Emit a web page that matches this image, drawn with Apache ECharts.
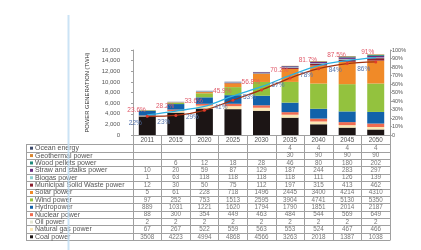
<!DOCTYPE html>
<html><head><meta charset="utf-8">
<script src="https://cdn.jsdelivr.net/npm/echarts@6/dist/echarts.min.js"></script>
<style>html,body{margin:0;padding:0;background:#fff}#c{width:421px;height:250px}</style>
</head><body><div id="c"></div>
<script>
// ---- data ----
const years = ['2011','2015','2020','2025','2030','2035','2040','2045','2050'];
const rowNames = ['Ocean energy','Geothermal power','Wood pellets power','Straw and stalks power','Biogas power','Municipal Solid Waste power','Solar power','Wind power','Hydropower','Nuclear power','Oil power','Natural gas power','Coal power'];
const ocean      = [null,null,null,null,null,4,4,4,4];
const geothermal = [null,null,null,null,null,30,90,90,90];
const woodPellets= [null,6,12,18,28,46,80,180,202];
const straw      = [10,20,59,87,129,187,244,283,297];
const biogas     = [1,63,118,118,118,118,111,126,139];
const msw        = [12,30,50,75,112,197,315,413,462];
const solar      = [5,61,228,718,1496,2445,3400,4214,4310];
const wind       = [97,252,753,1513,2595,3904,4741,5130,5350];
const hydro      = [889,1031,1221,1620,1794,1790,1851,2014,2187];
const nuclear    = [88,300,354,449,463,484,544,569,649];
const oil        = [2,2,2,2,2,2,2,2,2];
const naturalGas = [67,267,522,559,563,553,524,467,466];
const coal       = [3508,4223,4994,4868,4566,3263,2018,1387,1038];
const shareUpper = [23.6,28.2,33.6,45.9,56.8,70.2,81.7,87.5,91];
const shareLower = [22,23,29,41,53,67,78,84,86];
const leftAxisName = 'POWER GENERATION (TWH)';

// ---- styles ----
const rows = [ocean,geothermal,woodPellets,straw,biogas,msw,solar,wind,hydro,nuclear,oil,naturalGas,coal];
const colors = ['#3d4a6b','#d98630','#1f8a7a','#6b2f80','#8dcfd0','#8b1e2e','#f08a28','#93c23e','#1262aa','#f06b50','#e4e6d2','#fbe7b2','#1c1515'];
const F = 'Liberation Sans';
const gridLine = {color:'#a0a0a0', width:1};

const series = [];
for (let r = rows.length - 1; r >= 0; r--) {
  series.push({
    type:'bar', name:rowNames[r], stack:'gen', xAxisIndex:0, yAxisIndex:0,
    barWidth:17, data:rows[r], itemStyle:{color:colors[r]}, silent:true
  });
}
series.push({
  type:'line', name:'upper', xAxisIndex:0, yAxisIndex:1, data:shareUpper, smooth:0.3,
  symbol:'circle', symbolSize:1, showSymbol:true, itemStyle:{color:'#2cb0e2'},
  lineStyle:{color:'#2cb0e2', width:1.3}, z:5,
  label:{show:true, position:'left', distance:1, offset:[0,-5], formatter:p=>p.value+'%',
    color:'#e05868', fontSize:6.5, fontFamily:F}
});
series.push({
  type:'line', name:'lower', xAxisIndex:0, yAxisIndex:1, data:shareLower, smooth:0.3,
  symbol:'circle', symbolSize:3, itemStyle:{color:'#e23a2a'}, lineStyle:{color:'#a3300f', width:1.3}, z:6,
  label:{show:true, position:'left', distance:4, offset:[0,7], formatter:p=>p.value+'%',
    color:'#5574ad', fontSize:6.5, fontFamily:F}
});
const cells = [];
rows.forEach((arr, r) => arr.forEach((v, c) => { if (v !== null) cells.push([c, r, v]); }));
series.push({
  type:'scatter', xAxisIndex:1, yAxisIndex:2, data:cells, symbolSize:1, itemStyle:{color:'rgba(0,0,0,0)'},
  silent:true,
  label:{show:true, position:'inside', formatter:p=>p.value[2], color:'#555', fontSize:6.3, fontFamily:F}
});

const rich = {};
colors.forEach((c,i) => rich['m'+i] = {width:3, height:3, backgroundColor:c});

const option = {
  animation:false,
  backgroundColor:'#fff',
  grid:[
    {left:133, right:31, top:50, height:85},
    {left:133, right:31, top:144.5, height:96}
  ],
  xAxis:[
    {type:'category', gridIndex:0, data:years, boundaryGap:true,
     axisLine:{lineStyle:gridLine},
     axisTick:{show:true, interval:0, length:10, lineStyle:gridLine},
     axisLabel:{margin:2, fontSize:6.3, color:'#555', fontFamily:F, interval:0}},
    {type:'category', gridIndex:1, data:years, boundaryGap:true,
     axisLine:{show:false}, axisTick:{show:false}, axisLabel:{show:false},
     splitLine:{show:true, interval:0, lineStyle:gridLine}}
  ],
  yAxis:[
    {type:'value', gridIndex:0, min:0, max:16000, interval:2000, position:'left',
     name:leftAxisName, nameLocation:'middle', nameGap:40, nameRotate:90,
     nameTextStyle:{fontSize:5.8, color:'#333', fontFamily:F},
     axisLine:{show:true, lineStyle:gridLine}, axisTick:{show:true, length:2, lineStyle:gridLine},
     splitLine:{show:false},
     axisLabel:{margin:13, fontSize:6, color:'#555', fontFamily:F}},
    {type:'value', gridIndex:0, min:0, max:100, interval:10, position:'right',
     axisLine:{show:true, lineStyle:gridLine}, axisTick:{show:true, length:2, lineStyle:gridLine},
     splitLine:{show:false},
     axisLabel:{margin:2, fontSize:5.5, color:'#555', fontFamily:F, formatter:v=>v===0?'0':v+'%'}},
    {type:'category', gridIndex:1, data:rowNames, inverse:true, position:'left',
     axisLine:{show:true, lineStyle:gridLine},
     axisTick:{show:true, interval:0, length:107, lineStyle:gridLine},
     splitLine:{show:true, interval:0, lineStyle:gridLine},
     axisLabel:{interval:0, align:'left', margin:103, fontSize:7, color:'#555', fontFamily:F,
       formatter:(v,i)=>'{m'+i+'|} '+v, rich:rich}},
    {type:'category', gridIndex:1, data:rowNames, inverse:true, position:'left', offset:107,
     axisLine:{show:true, lineStyle:gridLine}, axisTick:{show:false}, axisLabel:{show:false}}
  ],
  graphic:[
    {type:'line', z:100, shape:{x1:68.5, y1:15, x2:68.5, y2:250}, style:{stroke:'rgba(190,220,242,0.8)', lineWidth:2}}
  ],
  series:series
};
const chart = echarts.init(document.getElementById('c'), null, {renderer:'canvas'});
chart.setOption(option);
</script></body></html>
